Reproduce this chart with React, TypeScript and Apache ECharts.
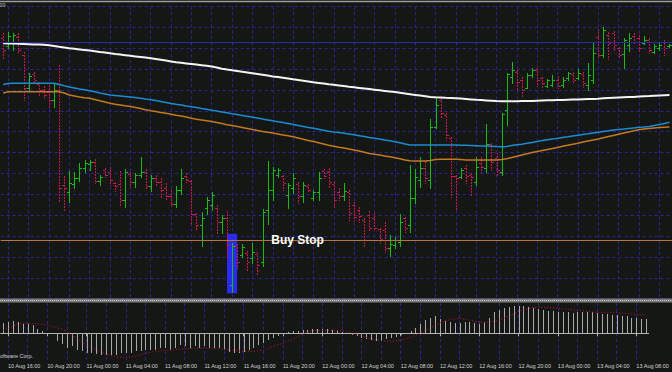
import React, { useEffect, useRef } from "react";
import * as echarts from "echarts";

// ---- tick labels of the time axis ----
const tickLabels = [
  "10 Aug 16:00", "10 Aug 20:00", "11 Aug 00:00", "11 Aug 04:00", "11 Aug 08:00",
  "11 Aug 12:00", "11 Aug 16:00", "11 Aug 20:00", "12 Aug 00:00", "12 Aug 04:00",
  "12 Aug 08:00", "12 Aug 12:00", "12 Aug 16:00", "12 Aug 20:00", "13 Aug 00:00",
  "13 Aug 04:00", "13 Aug 08:00",
];

// ---- OHLC (M30 bars, first bar 10 Aug 15:30) ----
const open = [
  1.4260, 1.4252, 1.4256, 1.4261, 1.4243, 1.4210, 1.4224, 1.4214, 1.4208, 1.4206,
  1.4198, 1.4208, 1.4113, 1.4106, 1.4114, 1.4120, 1.4130, 1.4134, 1.4136, 1.4117,
  1.4128, 1.4126, 1.4115, 1.4114, 1.4098, 1.4124, 1.4116, 1.4123, 1.4126, 1.4112,
  1.4120, 1.4116, 1.4110, 1.4102, 1.4094, 1.4108, 1.4122, 1.4117, 1.4084, 1.4073,
  1.4090, 1.4093, 1.4090, 1.4076, 1.4080, 1.4013, 1.4052, 1.4043, 1.4045, 1.4040,
  1.4044, 1.4036, 1.4088, 1.4108, 1.4123, 1.4122, 1.4103, 1.4110, 1.4114, 1.4102,
  1.4112, 1.4100, 1.4106, 1.4127, 1.4126, 1.4114, 1.4106, 1.4102, 1.4106, 1.4093,
  1.4088, 1.4078, 1.4083, 1.4080, 1.4069, 1.4068, 1.4050, 1.4053, 1.4056, 1.4080,
  1.4073, 1.4100, 1.4118, 1.4130, 1.4118, 1.4171, 1.4198, 1.4183, 1.4160, 1.4122,
  1.4121, 1.4130, 1.4123, 1.4116, 1.4135, 1.4130, 1.4154, 1.4140, 1.4126, 1.4188,
  1.4221, 1.4226, 1.4218, 1.4210, 1.4223, 1.4228, 1.4220, 1.4212, 1.4213, 1.4218,
  1.4213, 1.4220, 1.4224, 1.4220, 1.4224, 1.4213, 1.4218, 1.4261, 1.4243, 1.4263,
  1.4265, 1.4250, 1.4244, 1.4253, 1.4262, 1.4260, 1.4255, 1.4258, 1.4246, 1.4250,
  1.4256, 1.4252,
];
const high = [
  1.4265, 1.4266, 1.4265, 1.4265, 1.4246, 1.4225, 1.4226, 1.4216, 1.4212, 1.4213,
  1.4215, 1.4233, 1.4122, 1.4127, 1.4126, 1.4135, 1.4138, 1.4138, 1.4139, 1.4123,
  1.4130, 1.4131, 1.4116, 1.4127, 1.4129, 1.4126, 1.4125, 1.4141, 1.4129, 1.4123,
  1.4123, 1.4120, 1.4115, 1.4108, 1.4112, 1.4129, 1.4125, 1.4118, 1.4085, 1.4086,
  1.4101, 1.4106, 1.4093, 1.4083, 1.4087, 1.4055, 1.4054, 1.4054, 1.4047, 1.4055,
  1.4046, 1.4089, 1.4137, 1.4131, 1.4130, 1.4123, 1.4115, 1.4125, 1.4116, 1.4116,
  1.4114, 1.4108, 1.4126, 1.4129, 1.4130, 1.4116, 1.4110, 1.4115, 1.4108, 1.4096,
  1.4091, 1.4080, 1.4087, 1.4085, 1.4070, 1.4076, 1.4063, 1.4061, 1.4084, 1.4081,
  1.4133, 1.4129, 1.4141, 1.4136, 1.4179, 1.4200, 1.4200, 1.4185, 1.4161, 1.4123,
  1.4130, 1.4133, 1.4125, 1.4141, 1.4141, 1.4174, 1.4155, 1.4145, 1.4185, 1.4225,
  1.4236, 1.4228, 1.4221, 1.4225, 1.4230, 1.4230, 1.4221, 1.4219, 1.4223, 1.4222,
  1.4221, 1.4226, 1.4226, 1.4229, 1.4226, 1.4235, 1.4255, 1.4269, 1.4271, 1.4266,
  1.4267, 1.4251, 1.4260, 1.4265, 1.4265, 1.4263, 1.4262, 1.4260, 1.4254, 1.4255,
  1.4258, 1.4254,
];
const low = [
  1.4240, 1.4250, 1.4248, 1.4245, 1.4198, 1.4207, 1.4215, 1.4203, 1.4200, 1.4191,
  1.4191, 1.4096, 1.4087, 1.4096, 1.4110, 1.4117, 1.4126, 1.4128, 1.4115, 1.4113,
  1.4121, 1.4113, 1.4107, 1.4092, 1.4091, 1.4111, 1.4111, 1.4121, 1.4110, 1.4107,
  1.4112, 1.4100, 1.4098, 1.4093, 1.4091, 1.4104, 1.4116, 1.4073, 1.4068, 1.4052,
  1.4084, 1.4088, 1.4065, 1.4065, 1.4041, 1.4006, 1.4030, 1.4041, 1.4028, 1.4035,
  1.4023, 1.4032, 1.4074, 1.4098, 1.4121, 1.4108, 1.4090, 1.4105, 1.4095, 1.4096,
  1.4106, 1.4098, 1.4098, 1.4120, 1.4111, 1.4090, 1.4098, 1.4098, 1.4078, 1.4078,
  1.4076, 1.4052, 1.4068, 1.4068, 1.4055, 1.4046, 1.4042, 1.4050, 1.4052, 1.4066,
  1.4066, 1.4095, 1.4111, 1.4115, 1.4110, 1.4170, 1.4180, 1.4158, 1.4101, 1.4088,
  1.4120, 1.4115, 1.4103, 1.4113, 1.4126, 1.4126, 1.4128, 1.4123, 1.4123, 1.4173,
  1.4215, 1.4208, 1.4201, 1.4210, 1.4221, 1.4213, 1.4210, 1.4211, 1.4212, 1.4210,
  1.4211, 1.4218, 1.4215, 1.4219, 1.4211, 1.4208, 1.4215, 1.4241, 1.4241, 1.4239,
  1.4248, 1.4241, 1.4230, 1.4247, 1.4254, 1.4246, 1.4254, 1.4245, 1.4245, 1.4248,
  1.4243, 1.4251,
];
const close = [
  1.4248, 1.4262, 1.4263, 1.4248, 1.4210, 1.4222, 1.4218, 1.4208, 1.4203, 1.4198,
  1.4208, 1.4110, 1.4110, 1.4115, 1.4120, 1.4130, 1.4135, 1.4136, 1.4117, 1.4121,
  1.4123, 1.4118, 1.4112, 1.4098, 1.4126, 1.4116, 1.4123, 1.4126, 1.4112, 1.4120,
  1.4116, 1.4108, 1.4102, 1.4094, 1.4108, 1.4120, 1.4118, 1.4084, 1.4073, 1.4080,
  1.4098, 1.4103, 1.4076, 1.4080, 1.4053, 1.4052, 1.4036, 1.4051, 1.4036, 1.4046,
  1.4033, 1.4086, 1.4108, 1.4128, 1.4128, 1.4115, 1.4113, 1.4120, 1.4102, 1.4113,
  1.4108, 1.4106, 1.4120, 1.4122, 1.4116, 1.4098, 1.4102, 1.4107, 1.4085, 1.4081,
  1.4082, 1.4058, 1.4070, 1.4070, 1.4059, 1.4050, 1.4054, 1.4058, 1.4076, 1.4070,
  1.4100, 1.4121, 1.4130, 1.4120, 1.4171, 1.4193, 1.4185, 1.4163, 1.4122, 1.4120,
  1.4128, 1.4122, 1.4121, 1.4131, 1.4131, 1.4154, 1.4136, 1.4128, 1.4184, 1.4224,
  1.4228, 1.4216, 1.4208, 1.4223, 1.4228, 1.4218, 1.4215, 1.4218, 1.4218, 1.4212,
  1.4218, 1.4225, 1.4218, 1.4225, 1.4215, 1.4223, 1.4245, 1.4243, 1.4268, 1.4255,
  1.4253, 1.4243, 1.4258, 1.4260, 1.4256, 1.4250, 1.4258, 1.4248, 1.4252, 1.4253,
  1.4250, 1.4253,
];

// ---- moving averages ----
const maWhite = [
  1.42547, 1.42545, 1.42544, 1.42542, 1.42540, 1.42538, 1.42536, 1.42534, 1.42532, 1.42528,
  1.42520, 1.42512, 1.42505, 1.42498, 1.42492, 1.42486, 1.42480, 1.42474, 1.42467, 1.42460,
  1.42454, 1.42447, 1.42440, 1.42434, 1.42428, 1.42422, 1.42416, 1.42410, 1.42404, 1.42398,
  1.42390, 1.42382, 1.42374, 1.42366, 1.42358, 1.42352, 1.42346, 1.42340, 1.42334, 1.42328,
  1.42322, 1.42314, 1.42304, 1.42293, 1.42284, 1.42277, 1.42270, 1.42262, 1.42255, 1.42248,
  1.42240, 1.42232, 1.42224, 1.42216, 1.42209, 1.42202, 1.42195, 1.42187, 1.42180, 1.42173,
  1.42166, 1.42158, 1.42151, 1.42144, 1.42137, 1.42132, 1.42126, 1.42120, 1.42113, 1.42107,
  1.42101, 1.42095, 1.42089, 1.42083, 1.42077, 1.42071, 1.42065, 1.42059, 1.42052, 1.42045,
  1.42038, 1.42031, 1.42024, 1.42017, 1.42010, 1.42007, 1.42005, 1.42002, 1.42000, 1.41997,
  1.41994, 1.41990, 1.41986, 1.41982, 1.41979, 1.41976, 1.41973, 1.41970, 1.41968, 1.41967,
  1.41967, 1.41968, 1.41969, 1.41970, 1.41971, 1.41973, 1.41975, 1.41977, 1.41978, 1.41979,
  1.41980, 1.41982, 1.41984, 1.41986, 1.41988, 1.41990, 1.41991, 1.41993, 1.41997, 1.42000,
  1.42003, 1.42005, 1.42007, 1.42009, 1.42011, 1.42014, 1.42017, 1.42019, 1.42022, 1.42025,
  1.42028, 1.42030,
];
const maBlue = [
  1.42135, 1.42145, 1.42147, 1.42147, 1.42147, 1.42147, 1.42147, 1.42147, 1.42147, 1.42147,
  1.42147, 1.42135, 1.42122, 1.42110, 1.42100, 1.42090, 1.42082, 1.42073, 1.42062, 1.42050,
  1.42040, 1.42030, 1.42024, 1.42019, 1.42014, 1.42009, 1.42004, 1.41998, 1.41990, 1.41983,
  1.41976, 1.41966, 1.41956, 1.41946, 1.41937, 1.41929, 1.41920, 1.41912, 1.41904, 1.41895,
  1.41887, 1.41878, 1.41870, 1.41861, 1.41852, 1.41843, 1.41835, 1.41826, 1.41817, 1.41808,
  1.41799, 1.41790, 1.41781, 1.41772, 1.41763, 1.41754, 1.41745, 1.41736, 1.41726, 1.41716,
  1.41706, 1.41697, 1.41687, 1.41677, 1.41667, 1.41660, 1.41654, 1.41647, 1.41640, 1.41632,
  1.41623, 1.41614, 1.41605, 1.41597, 1.41589, 1.41581, 1.41572, 1.41562, 1.41552, 1.41541,
  1.41530, 1.41530, 1.41530, 1.41530, 1.41530, 1.41530, 1.41530, 1.41530, 1.41530, 1.41530,
  1.41528, 1.41527, 1.41525, 1.41523, 1.41521, 1.41520, 1.41518, 1.41515, 1.41513, 1.41515,
  1.41525, 1.41532, 1.41538, 1.41547, 1.41555, 1.41565, 1.41574, 1.41582, 1.41590, 1.41597,
  1.41605, 1.41612, 1.41620, 1.41627, 1.41635, 1.41642, 1.41650, 1.41657, 1.41665, 1.41672,
  1.41680, 1.41685, 1.41689, 1.41695, 1.41701, 1.41707, 1.41711, 1.41716, 1.41724, 1.41734,
  1.41745, 1.41757,
];
const maOrange = [
  1.42050, 1.42063, 1.42063, 1.42063, 1.42063, 1.42063, 1.42063, 1.42063, 1.42063, 1.42063,
  1.42063, 1.42063, 1.42050, 1.42030, 1.42020, 1.42010, 1.42002, 1.41997, 1.41985, 1.41972,
  1.41960, 1.41947, 1.41938, 1.41930, 1.41922, 1.41915, 1.41906, 1.41895, 1.41882, 1.41872,
  1.41864, 1.41856, 1.41848, 1.41838, 1.41828, 1.41820, 1.41810, 1.41797, 1.41787, 1.41780,
  1.41772, 1.41764, 1.41755, 1.41744, 1.41733, 1.41724, 1.41714, 1.41704, 1.41694, 1.41684,
  1.41675, 1.41666, 1.41658, 1.41649, 1.41640, 1.41631, 1.41622, 1.41612, 1.41600, 1.41587,
  1.41575, 1.41564, 1.41552, 1.41540, 1.41528, 1.41517, 1.41508, 1.41500, 1.41490, 1.41480,
  1.41469, 1.41458, 1.41446, 1.41438, 1.41429, 1.41420, 1.41412, 1.41402, 1.41392, 1.41381,
  1.41373, 1.41370, 1.41370, 1.41370, 1.41375, 1.41385, 1.41387, 1.41387, 1.41387, 1.41387,
  1.41385, 1.41380, 1.41380, 1.41380, 1.41380, 1.41380, 1.41380, 1.41380, 1.41384, 1.41392,
  1.41405, 1.41418, 1.41430, 1.41442, 1.41454, 1.41466, 1.41476, 1.41486, 1.41496, 1.41506,
  1.41517, 1.41527, 1.41538, 1.41548, 1.41559, 1.41569, 1.41579, 1.41590, 1.41602, 1.41614,
  1.41626, 1.41638, 1.41650, 1.41661, 1.41672, 1.41682, 1.41690, 1.41696, 1.41701, 1.41705,
  1.41708, 1.41710,
];

// ---- MACD indicator ----
const macdHist = [
  0.0010, 0.0011, 0.0012, 0.0011, 0.0009, 0.0009, 0.0008, 0.00045, 0.0002, 0.00005,
  -0.00005, -0.0008, -0.0011, -0.0015, -0.0013, -0.0017, -0.0018, -0.0020, -0.0020, -0.0021,
  -0.0022, -0.0022, -0.0022, -0.0022, -0.0020, -0.0020, -0.0020, -0.0018, -0.0018, -0.0017,
  -0.0017, -0.0017, -0.0015, -0.0015, -0.0017, -0.0015, -0.0012, -0.0013, -0.0015, -0.0013,
  -0.0015, -0.0013, -0.0015, -0.0015, -0.0015, -0.0017, -0.0019, -0.0020, -0.0020, -0.0019,
  -0.0017, -0.0015, -0.0012, -0.0010, -0.0007, -0.0005, -0.0003, -0.0001, 0.0001, 0.0002,
  0.0002, 0.0003, 0.0003, 0.0004, 0.0004, 0.0004, 0.0004, 0.0003, 0.0002, 0.0001,
  -0.0001, -0.0002, -0.0003, -0.0005, -0.0006, -0.0007, -0.0008, -0.0008, -0.0006, -0.0005,
  -0.0004, -0.0002, -0.0001, 0.0002, 0.0005, 0.0009, 0.0013, 0.0015, 0.0017, 0.0014,
  0.0012, 0.0011, 0.0010, 0.0010, 0.0011, 0.0011, 0.0010, 0.0009, 0.0011, 0.0015,
  0.0021, 0.0023, 0.0025, 0.0026, 0.0027, 0.0027, 0.0027, 0.0026, 0.0025, 0.0024,
  0.0023, 0.0022, 0.0022, 0.0021, 0.0021, 0.0021, 0.0020, 0.0021, 0.0021, 0.0021,
  0.0021, 0.0020, 0.0019, 0.0019, 0.0018, 0.0018, 0.0017, 0.0017, 0.0015, 0.0015,
  0.0014, 0.0014,
];
const macdSignal = [
  0.0003, 0.0005, 0.0007, 0.0009, 0.0010, 0.0010, 0.0010, 0.00095, 0.0009, 0.0008,
  0.0007, 0.00055, 0.0004, 0.0002, -0.00015, -0.0005, -0.00085, -0.00115, -0.0014, -0.00165,
  -0.0019, -0.0021, -0.00225, -0.00235, -0.0024, -0.0024, -0.00235, -0.0023, -0.00215, -0.0020,
  -0.0019, -0.0018, -0.00175, -0.0017, -0.00165, -0.00163, -0.0016, -0.00157, -0.00153, -0.0015,
  -0.0015, -0.0015, -0.0015, -0.0015, -0.00155, -0.0016, -0.00165, -0.0017, -0.00175, -0.0018,
  -0.0018, -0.0018, -0.00175, -0.0017, -0.0015, -0.0013, -0.00115, -0.0010, -0.0008, -0.0006,
  -0.00035, -0.0001, 0.0001, 0.00027, 0.0003, 0.0003, 0.0003, 0.0003, 0.00028, 0.00025,
  0.00015, 0.00005, -0.0001, -0.00025, -0.0004, -0.00055, -0.00065, -0.00072, -0.00078, -0.0008,
  -0.00075, -0.00068, -0.00055, -0.0004, -0.0002, 0.00005, 0.0003, 0.0005, 0.0008, 0.00105,
  0.00125, 0.00135, 0.00143, 0.0015, 0.0014, 0.0013, 0.0012, 0.0011, 0.0011, 0.0011,
  0.0012, 0.0013, 0.0015, 0.0017, 0.00195, 0.0022, 0.00235, 0.0025, 0.00255, 0.0026,
  0.0026, 0.0026, 0.00255, 0.0025, 0.00245, 0.0024, 0.00235, 0.0023, 0.00225, 0.0022,
  0.00215, 0.0021, 0.0021, 0.0021, 0.0021, 0.00207, 0.00203, 0.0020, 0.00195, 0.0019,
  0.00185, 0.0018,
];

// ---- levels ----
const buyStopPrice = 1.4058;
const askLinePrice = 1.4256;
const orderBoxTop = 1.40643;
const orderBoxBottom = 1.40047;
const orderBoxFromBar = 44;
const orderBoxToBar = 46;
const buyStopLabelBar = 53;

// ---- categories (30-minute bars) ----
const MONTHS = ["Jan", "Feb", "Mar", "Apr", "May", "Jun", "Jul", "Aug", "Sep", "Oct", "Nov", "Dec"];
const pad = (n: number) => (n < 10 ? "0" + n : "" + n);
const barTimes: string[] = open.map((_, i) => {
  const d = new Date(Date.UTC(2009, 7, 10, 15, 30) + i * 30 * 60000);
  return `${d.getUTCDate()} ${MONTHS[d.getUTCMonth()]} ${pad(d.getUTCHours())}:${pad(d.getUTCMinutes())}`;
});

const BG = "#151715";
const GRID = "#2b2592";
const UP = "#16bb16";
const DOWN = "#c8174e";
const AXIS_FONT = "'Liberation Sans', Arial, sans-serif";

export default function App() {
  const ref = useRef<HTMLDivElement>(null);

  useEffect(() => {
    document.body.style.margin = "0";
    const chart = echarts.init(ref.current as HTMLDivElement, null, { renderer: "svg" });

    const gridEvery = (i: number) => i % 4 === 1;
    const labelEvery = (_i: number, v: string) => tickLabels.indexOf(v) >= 0;

    const ohlcData = barTimes.map((_, i) => [i, open[i], close[i], low[i], high[i]]);
    const histData = barTimes.map((_, i) => [i, macdHist[i]]);

    const renderBar = (_params: any, api: any) => {
      const i = api.value(0);
      const o = api.value(1);
      const c = api.value(2);
      const l = api.value(3);
      const h = api.value(4);
      const pH = api.coord([i, h]);
      const pL = api.coord([i, l]);
      const pO = api.coord([i, o]);
      const pC = api.coord([i, c]);
      const n = Math.round(pH[0]);
      const x = n + 0.5;
      const up = c > o;
      const col = up ? UP : DOWN;
      const yo = Math.round(pO[1]) + 0.5;
      const yc = Math.round(pC[1]) + 0.5;
      return {
        type: "group",
        children: [
          {
            type: "line",
            shape: { x1: x, y1: Math.round(pH[1]), x2: x, y2: Math.round(pL[1]) + 1 },
            style: { stroke: col, lineWidth: 1, lineDash: up ? null : [2, 1] },
          },
          { type: "line", shape: { x1: n - 2, y1: yo, x2: n, y2: yo }, style: { stroke: col, lineWidth: 1 } },
          { type: "line", shape: { x1: n + 1, y1: yc, x2: n + 3, y2: yc }, style: { stroke: col, lineWidth: 1 } },
        ],
      };
    };

    const renderHist = (_params: any, api: any) => {
      const i = api.value(0);
      const v = api.value(1);
      const p0 = api.coord([i, 0]);
      const p1 = api.coord([i, v]);
      const x = Math.round(p0[0]) + 0.5;
      return {
        type: "line",
        shape: { x1: x, y1: Math.round(p0[1]), x2: x, y2: Math.round(p1[1]) },
        style: { stroke: "#a9a9a9", lineWidth: 1 },
      };
    };

    const dotted = { color: GRID, width: 1, type: [3, 3] as any };

    chart.setOption({
      animation: false,
      backgroundColor: BG,
      grid: [
        { left: 0.65, right: -2.25, top: 6.4, height: 292.3 },
        { left: 0.65, right: -2.25, top: 303, height: 58 },
      ],
      xAxis: [
        {
          type: "category",
          gridIndex: 0,
          data: barTimes,
          boundaryGap: true,
          axisLine: { show: false },
          axisTick: { show: false },
          axisLabel: { show: false },
          splitLine: { show: true, interval: gridEvery, alignWithLabel: true, lineStyle: dotted },
        },
        {
          type: "category",
          gridIndex: 1,
          data: barTimes,
          boundaryGap: true,
          position: "bottom",
          axisLine: { show: true, lineStyle: { color: "#b4b4b4", width: 1 } },
          axisTick: {
            show: true,
            interval: labelEvery,
            alignWithLabel: true,
            length: 3,
            lineStyle: { color: "#b4b4b4" },
          },
          axisLabel: {
            interval: labelEvery,
            align: "left",
            margin: 2,
            fontSize: 5.5,
            color: "#d4d4d4",
            fontFamily: AXIS_FONT,
          },
          splitLine: { show: true, interval: gridEvery, alignWithLabel: true, lineStyle: dotted },
        },
      ],
      yAxis: [
        { type: "value", gridIndex: 0, min: 1.39993, max: 1.42916, show: false },
        {
          type: "value",
          gridIndex: 0,
          min: 0,
          max: 14,
          interval: 1,
          axisLine: { show: false },
          axisTick: { show: false },
          axisLabel: { show: false },
          splitLine: { show: true, lineStyle: dotted },
        },
        { type: "value", gridIndex: 1, min: -0.00277, max: 0.00303, show: false },
      ],
      series: [
        {
          name: "orders",
          type: "line",
          xAxisIndex: 0,
          yAxisIndex: 0,
          data: [],
          z: 1,
          silent: true,
          markArea: {
            silent: true,
            itemStyle: { color: "#2a2af0", opacity: 1 },
            label: { show: false },
            data: [[
              { xAxis: barTimes[orderBoxFromBar], yAxis: orderBoxTop },
              { xAxis: barTimes[orderBoxToBar], yAxis: orderBoxBottom },
            ]],
          },
          markPoint: {
            silent: true,
            symbol: "rect",
            symbolSize: 1,
            itemStyle: { color: "rgba(0,0,0,0)" },
            data: [
              {
                coord: [barTimes[buyStopLabelBar], buyStopPrice],
                label: {
                  show: true,
                  position: "right",
                  distance: 0,
                  offset: [-2, 0],
                  formatter: "Buy Stop",
                  color: "#ffffff",
                  fontSize: 12,
                  fontWeight: "bold",
                  fontFamily: "'Liberation Sans', Arial, sans-serif",
                },
              },
            ],
          },
        },
        {
          name: "bars",
          type: "custom",
          xAxisIndex: 0,
          yAxisIndex: 0,
          z: 3,
          silent: true,
          renderItem: renderBar,
          encode: { x: 0, y: [1, 2, 3, 4] },
          data: ohlcData,
        },
        {
          name: "MA slow",
          type: "line",
          xAxisIndex: 0,
          yAxisIndex: 0,
          data: maWhite,
          symbol: "none",
          silent: true,
          z: 4,
          lineStyle: { color: "#f4f4f4", width: 2 },
          markLine: {
            silent: true,
            precision: 5,
            symbol: ["none", "none"],
            label: { show: false },
            data: [
              { yAxis: buyStopPrice, lineStyle: { color: "#b8743c", width: 1, type: "solid" } },
              { yAxis: askLinePrice, lineStyle: { color: "#2828b0", width: 1, type: "solid" } },
            ],
          },
        },
        {
          name: "MA mid",
          type: "line",
          xAxisIndex: 0,
          yAxisIndex: 0,
          data: maBlue,
          symbol: "none",
          silent: true,
          z: 4,
          lineStyle: { color: "#1b8bd2", width: 1.5 },
        },
        {
          name: "MA fast",
          type: "line",
          xAxisIndex: 0,
          yAxisIndex: 0,
          data: maOrange,
          symbol: "none",
          silent: true,
          z: 4,
          lineStyle: { color: "#c47a1c", width: 1.5 },
        },
        {
          name: "MACD",
          type: "custom",
          xAxisIndex: 1,
          yAxisIndex: 2,
          silent: true,
          z: 3,
          renderItem: renderHist,
          encode: { x: 0, y: 1 },
          data: histData,
        },
        {
          name: "Signal",
          type: "line",
          xAxisIndex: 1,
          yAxisIndex: 2,
          data: macdSignal,
          symbol: "none",
          silent: true,
          z: 4,
          lineStyle: { color: "#d0102c", width: 1, type: [1, 2] as any },
        },
      ],
      graphic: [
        {
          type: "line",
          z: 100,
          shape: { x1: 0, y1: 1.5, x2: 672, y2: 1.5 },
          style: { stroke: "#9c9c9c", lineWidth: 1.5 },
        },
        {
          type: "rect",
          z: 100,
          shape: { x: 0, y: 298.5, width: 672, height: 4 },
          style: { fill: "#7c7c7c" },
        },
        {
          type: "line",
          z: 101,
          shape: { x1: 0, y1: 300.5, x2: 672, y2: 300.5 },
          style: { stroke: "#c4c4c4", lineWidth: 1, lineDash: [1, 1] },
        },
        {
          type: "text",
          z: 100,
          x: -1,
          y: 2,
          style: { text: "99", fill: "#a8a8a8", font: "6px " + AXIS_FONT },
        },
        {
          type: "text",
          z: 100,
          x: 0,
          y: 352.5,
          style: { text: "oftware Corp.", fill: "#d0d0d0", font: "5.5px " + AXIS_FONT },
        },
      ],
    });

    return () => chart.dispose();
  }, []);

  return (
    <div
      ref={ref}
      style={{ width: 672, height: 372, position: "absolute", left: 0, top: 0 }}
    />
  );
}
